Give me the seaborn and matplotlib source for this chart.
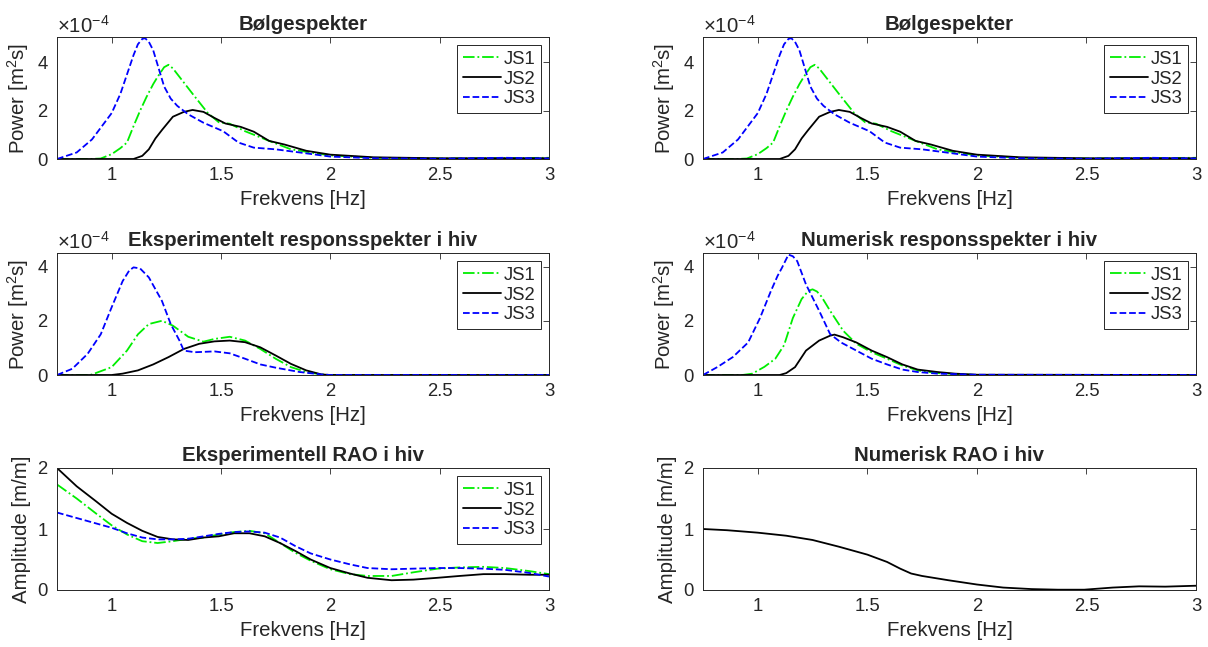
import numpy as np
import pandas as pd
import matplotlib
matplotlib.use("Agg")
import matplotlib.pyplot as plt
from matplotlib.ticker import ScalarFormatter
import seaborn as sns

# ---------------- data ----------------
series_names = ["JS1", "JS2", "JS3"]
x_ticks = [1, 1.5, 2, 2.5, 3]
x_tick_labels = ["1", "1.5", "2", "2.5", "3"]
power_ticks = [0, 2e-4, 4e-4]
amp_ticks = [0, 1, 2]

# wave spectrum (units of 1e-4 m^2 s)
wave_js1_f = [0.75, 0.90, 0.95, 1.00, 1.04, 1.07, 1.10, 1.13, 1.16, 1.19, 1.21, 1.24, 1.26,
              1.28, 1.31, 1.37, 1.44, 1.49, 1.54, 1.61, 1.72, 1.82, 1.93, 2.00, 2.20, 2.50, 3.00]
wave_js1 = [0.0, 0.0, 0.02, 0.20, 0.45, 0.68, 1.36, 2.00, 2.58, 3.10, 3.40, 3.80, 3.90,
            3.75, 3.40, 2.70, 1.90, 1.52, 1.46, 1.15, 0.75, 0.40, 0.24, 0.15, 0.05, 0.02, 0.05]
wave_js2_f = [0.75, 1.10, 1.14, 1.17, 1.20, 1.23, 1.28, 1.33, 1.37, 1.42, 1.47, 1.52, 1.59,
              1.65, 1.72, 1.79, 1.89, 2.00, 2.20, 2.50, 3.00]
wave_js2 = [0.0, 0.0, 0.13, 0.40, 0.85, 1.20, 1.75, 1.95, 2.03, 1.95, 1.70, 1.47, 1.33,
            1.13, 0.75, 0.60, 0.34, 0.18, 0.07, 0.03, 0.03]
wave_js3_f = [0.75, 0.84, 0.91, 1.00, 1.04, 1.07, 1.10, 1.12, 1.14, 1.153, 1.17, 1.19, 1.21,
              1.24, 1.27, 1.30, 1.35, 1.42, 1.51, 1.58, 1.65, 1.75, 1.86, 2.00, 2.20, 2.50,
              2.80, 3.00]
wave_js3 = [0.0, 0.27, 0.81, 1.90, 2.70, 3.50, 4.30, 4.75, 4.97, 5.00, 4.85, 4.50, 3.90,
            3.00, 2.50, 2.20, 1.85, 1.50, 1.15, 0.68, 0.47, 0.40, 0.27, 0.10, 0.03, 0.01,
            0.05, 0.02]

# experimental heave response spectrum (units of 1e-4 m^2 s)
exp_js1_f = [0.75, 0.90, 0.91, 1.00, 1.07, 1.12, 1.17, 1.23, 1.28, 1.35, 1.42, 1.47,
             1.54, 1.61, 1.68, 1.75, 1.82, 1.89, 1.96, 2.00, 3.00]
exp_js1 = [0.0, 0.0, 0.02, 0.29, 0.90, 1.50, 1.88, 2.00, 1.82, 1.41, 1.23, 1.33,
           1.41, 1.27, 0.96, 0.60, 0.29, 0.11, 0.02, 0.0, 0.0]
exp_js2_f = [0.75, 1.00, 1.05, 1.12, 1.19, 1.26, 1.33, 1.40, 1.47, 1.54, 1.61, 1.68,
             1.75, 1.82, 1.89, 1.96, 2.00, 3.00]
exp_js2 = [0.0, 0.0, 0.05, 0.17, 0.39, 0.66, 0.96, 1.15, 1.24, 1.27, 1.21, 1.02,
           0.72, 0.41, 0.17, 0.02, 0.0, 0.0]
exp_js3_f = [0.75, 0.82, 0.89, 0.95, 1.00, 1.05, 1.08, 1.10, 1.13, 1.17, 1.23, 1.27, 1.31,
             1.33, 1.38, 1.47, 1.54, 1.61, 1.68, 1.75, 1.86, 1.96, 2.00, 3.00]
exp_js3 = [0.0, 0.23, 0.78, 1.50, 2.50, 3.46, 3.85, 3.97, 3.93, 3.60, 2.73, 1.88, 1.27,
           0.90, 0.84, 0.87, 0.80, 0.60, 0.39, 0.27, 0.11, 0.02, 0.0, 0.0]

# numerical heave response spectrum (units of 1e-4 m^2 s)
num_js1_f = [0.75, 0.93, 0.975, 1.03, 1.08, 1.12, 1.16, 1.20, 1.23, 1.25, 1.27, 1.29, 1.33,
             1.39, 1.45, 1.52, 1.59, 1.66, 1.73, 1.82, 1.94, 2.00, 3.00]
num_js1 = [0.0, 0.0, 0.05, 0.30, 0.60, 1.10, 2.10, 2.80, 3.10, 3.16, 3.08, 2.90, 2.37,
           1.63, 1.15, 0.84, 0.60, 0.35, 0.17, 0.07, 0.02, 0.0, 0.0]
num_js2_f = [0.75, 1.10, 1.13, 1.17, 1.22, 1.28, 1.33, 1.35, 1.39, 1.45, 1.52, 1.59,
             1.66, 1.73, 1.82, 1.90, 2.00, 3.00]
num_js2 = [0.0, 0.0, 0.07, 0.29, 0.90, 1.27, 1.45, 1.49, 1.39, 1.20, 0.90, 0.66,
           0.39, 0.20, 0.11, 0.05, 0.01, 0.0]
num_js3_f = [0.75, 0.815, 0.886, 0.956, 1.01, 1.06, 1.09, 1.11, 1.14, 1.16, 1.18, 1.22,
             1.28, 1.33, 1.38, 1.45, 1.52, 1.59, 1.66, 1.73, 1.82, 2.00, 3.00]
num_js3 = [0.0, 0.29, 0.66, 1.20, 2.10, 3.10, 3.65, 3.95, 4.44, 4.38, 4.20, 3.34,
           2.37, 1.51, 1.20, 0.90, 0.60, 0.39, 0.20, 0.11, 0.05, 0.01, 0.0]

# experimental heave RAO [m/m]
rao_f = [0.75, 0.84, 0.93, 1.00, 1.07, 1.14, 1.21, 1.28, 1.35, 1.42, 1.49, 1.56, 1.63, 1.70,
         1.77, 1.84, 1.91, 2.00, 2.09, 2.17, 2.28, 2.38, 2.49, 2.59, 2.70, 2.80, 2.91, 3.00]
rao_js1 = [1.73, 1.50, 1.25, 1.06, 0.91, 0.80, 0.77, 0.80, 0.84, 0.86, 0.91, 0.95, 0.97, 0.93,
           0.77, 0.61, 0.48, 0.34, 0.26, 0.23, 0.23, 0.29, 0.35, 0.37, 0.38, 0.36, 0.31, 0.26]
rao_js2 = [2.00, 1.70, 1.45, 1.25, 1.10, 0.97, 0.87, 0.83, 0.82, 0.86, 0.88, 0.93, 0.93, 0.88,
           0.77, 0.64, 0.50, 0.36, 0.27, 0.20, 0.16, 0.17, 0.20, 0.23, 0.26, 0.26, 0.25, 0.25]
rao_js3 = [1.27, 1.18, 1.09, 1.02, 0.93, 0.86, 0.83, 0.83, 0.84, 0.88, 0.92, 0.95, 0.96, 0.94,
           0.86, 0.72, 0.60, 0.50, 0.42, 0.36, 0.34, 0.35, 0.36, 0.36, 0.35, 0.33, 0.28, 0.22]

# numerical heave RAO [m/m]
num_rao_f = [0.75, 0.86, 1.00, 1.13, 1.25, 1.37, 1.50, 1.59, 1.65, 1.70, 1.75, 1.87, 2.00,
             2.12, 2.25, 2.37, 2.49, 2.62, 2.74, 2.86, 3.00]
num_rao = [1.00, 0.98, 0.94, 0.89, 0.82, 0.71, 0.58, 0.46, 0.35, 0.27, 0.23, 0.16, 0.09,
           0.04, 0.015, 0.005, 0.005, 0.04, 0.06, 0.055, 0.07]

# ---------------- style ----------------
sns.set_style("white")
plt.rcParams["font.family"] = ["Liberation Sans", "DejaVu Sans"]
plt.rcParams["mathtext.fontset"] = "custom"
plt.rcParams["mathtext.rm"] = "Liberation Sans"
plt.rcParams["mathtext.it"] = "Liberation Sans:italic"
plt.rcParams["axes.formatter.use_mathtext"] = True
plt.rcParams["axes.formatter.limits"] = (-3, 4)

AX_COLOR = "#262626"
TICK_FS = 13.3
LABEL_FS = 14.7
styles = {"JS1": dict(color="#00ee00", linestyle="-."),
          "JS2": dict(color="black", linestyle="-"),
          "JS3": dict(color="#0000ff", linestyle="--")}

fig = plt.figure(figsize=(12.08, 6.47), dpi=100)
W, H = 1208, 647


def make_ax(x0, x1, top, bottom):
    return fig.add_axes([x0 / W, 1 - bottom / H, (x1 - x0) / W, (bottom - top) / H])


def style_ax(ax, title, ylabel, ylim, yticks, power):
    ax.set_xlim(0.75, 3)
    ax.set_ylim(*ylim)
    ax.set_xticks(x_ticks)
    ax.set_xticklabels(x_tick_labels)
    ax.set_yticks(yticks)
    if power:
        fmt = ScalarFormatter(useMathText=True)
        fmt.set_powerlimits((-3, 4))
        ax.yaxis.set_major_formatter(fmt)
        off = ax.yaxis.get_offset_text()
        off.set_fontsize(LABEL_FS)
        off.set_color("#404040")
    ax.set_title(title, fontsize=LABEL_FS, fontweight="bold", pad=5)
    ax.set_xlabel("Frekvens [Hz]", fontsize=LABEL_FS, color=AX_COLOR, labelpad=4)
    ax.set_ylabel(ylabel, fontsize=LABEL_FS, color=AX_COLOR, labelpad=4)
    ax.tick_params(direction="in", length=4, width=0.6, colors=AX_COLOR,
                   labelsize=TICK_FS, top=True, right=True, pad=6)
    for s in ax.spines.values():
        s.set_color(AX_COLOR)
        s.set_linewidth(0.7)


def add_legend(ax):
    leg = ax.legend(loc="upper right", fontsize=TICK_FS, frameon=True, fancybox=False,
                    edgecolor=AX_COLOR, framealpha=1, borderpad=0.3, labelspacing=0.15,
                    handlelength=2.1, handletextpad=0.1, borderaxespad=0.45)
    leg.get_frame().set_linewidth(0.7)


def plot_series(ax, freqs, vals, scale):
    for name, f, v in zip(series_names, freqs, vals):
        df = pd.DataFrame({"f": f, "v": np.asarray(v) * scale})
        sns.lineplot(data=df, x="f", y="v", ax=ax, label=name, lw=1.3,
                     sort=False, **styles[name])


power_label = "Power [m$^2$s]"
amp_label = "Amplitude [m/m]"
L0, L1 = 57, 549
R0, R1 = 703, 1196
rows = [(37, 159), (253, 375), (468, 590)]

# row 1: wave spectra
for x0, x1 in [(L0, L1), (R0, R1)]:
    ax = make_ax(x0, x1, *rows[0])
    plot_series(ax, [wave_js1_f, wave_js2_f, wave_js3_f],
                [wave_js1, wave_js2, wave_js3], 1e-4)
    style_ax(ax, "Bølgespekter", power_label, (0, 5.05e-4), power_ticks, True)
    add_legend(ax)

# row 2: response spectra
ax = make_ax(L0, L1, *rows[1])
plot_series(ax, [exp_js1_f, exp_js2_f, exp_js3_f], [exp_js1, exp_js2, exp_js3], 1e-4)
style_ax(ax, "Eksperimentelt responsspekter i hiv", power_label, (0, 4.5e-4),
         power_ticks, True)
add_legend(ax)

ax = make_ax(R0, R1, *rows[1])
plot_series(ax, [num_js1_f, num_js2_f, num_js3_f], [num_js1, num_js2, num_js3], 1e-4)
style_ax(ax, "Numerisk responsspekter i hiv", power_label, (0, 4.5e-4),
         power_ticks, True)
add_legend(ax)

# row 3: RAO
ax = make_ax(L0, L1, *rows[2])
plot_series(ax, [rao_f, rao_f, rao_f], [rao_js1, rao_js2, rao_js3], 1.0)
style_ax(ax, "Eksperimentell RAO i hiv", amp_label, (0, 2), amp_ticks, False)
add_legend(ax)

ax = make_ax(R0, R1, *rows[2])
sns.lineplot(x=num_rao_f, y=num_rao, ax=ax, color="black", lw=1.3, sort=False)
style_ax(ax, "Numerisk RAO i hiv", amp_label, (0, 2), amp_ticks, False)

fig.savefig("out.png", dpi=100)
